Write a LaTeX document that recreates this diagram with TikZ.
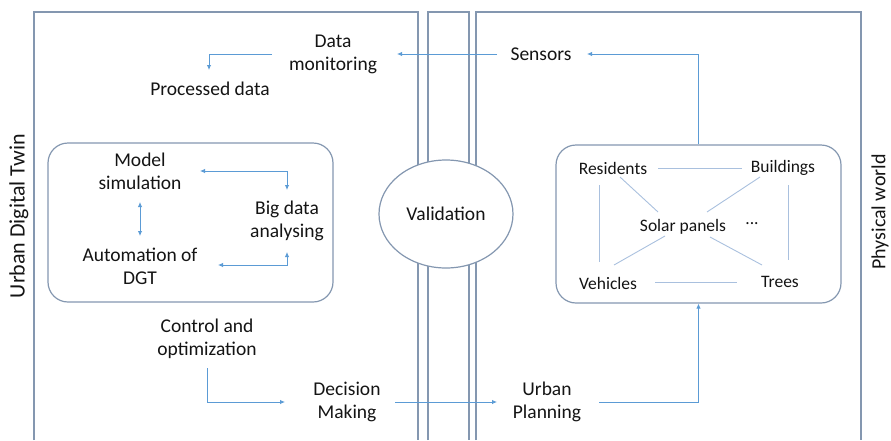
\documentclass[tikz,border=0pt]{standalone}
\usepackage{fontspec}
\setmainfont{Carlito}
\usetikzlibrary{arrows.meta,calc,shapes.geometric}
\definecolor{boxc}{HTML}{8497B0}
\definecolor{arrc}{HTML}{5B9BD5}
\definecolor{linc}{HTML}{A9C0DE}
\definecolor{txtc}{HTML}{141414}
\begin{document}
\begin{tikzpicture}[x=1pt,y=-1pt,
  txt/.style={text=txtc,font=\fontsize{19.5}{23}\selectfont,align=center,inner sep=0pt},
  sml/.style={text=txtc,font=\fontsize{17.5}{21}\selectfont,inner sep=0pt},
  frame/.style={draw=boxc,line width=1.2pt},
  roundbox/.style={draw=boxc,line width=1.2pt,rounded corners=20pt,inner sep=0pt},
  arr/.style={draw=arrc,line width=0.9pt,-{Latex[length=5pt,width=4.5pt]}},
  darr/.style={draw=arrc,line width=0.9pt,{Latex[length=5pt,width=4.5pt]}-{Latex[length=5pt,width=4.5pt]}},
  link/.style={draw=linc,line width=0.9pt}]
\useasboundingbox (0,0) rectangle (891,440);
% frames (open at the bottom)
\draw[frame] (34,440) -- (34,12) -- (418,12) -- (418,440);
\draw[frame] (428,440) -- (428,12) -- (469,12) -- (469,440);
\draw[frame] (476,440) -- (476,12) -- (861,12) -- (861,440);
% side labels
\node[txt,rotate=90,font=\fontsize{22}{26}\selectfont] (udt) at (19,216) {Urban Digital Twin};
\node[txt,rotate=90,font=\fontsize{20}{24}\selectfont] (pw) at (880,212) {Physical world};
% validation
\node[ellipse,draw=boxc,fill=white,line width=1.2pt,minimum width=134pt,minimum height=108pt,inner sep=0pt,text=txtc,font=\fontsize{19.5}{23}\selectfont] (val) at (446,214) {Validation};
% rounded boxes
\node[roundbox,minimum width=285pt,minimum height=159pt] (lb) at (190.5,222.5) {};
\node[roundbox,minimum width=285pt,minimum height=158pt] (rb) at (698.5,224) {};
% left texts
\node[txt] (dm) at (333,54) {Data\\monitoring};
\node[txt] (pd) at (210,89) {Processed data};
\node[txt] (ms) at (140,171) {Model\\simulation};
\node[txt] (bd) at (287,221) {Big data\\analysing};
\node[txt] (ag) at (140,266) {Automation of\\DGT};
\node[txt] (co) at (207,339) {Control and\\optimization};
\node[txt] (dec) at (347,402) {Decision\\Making};
% right texts
\node[txt] (sen) at (541,54) {Sensors};
\node[txt] (up) at (547,402) {Urban\\Planning};
\node[sml] (res) at (613,168) {Residents};
\node[sml] (bui) at (783,168) {Buildings};
\node[sml] (sol) at (683,227) {Solar panels};
\node[sml] (dots) at (752,224) {...};
\node[sml] (veh) at (608,283) {Vehicles};
\node[sml] (tre) at (780,282) {Trees};
% arrows top
\draw[arr] ($(sen)+(-44,0)$) -- ($(dm)+(64,0)$);
\draw[arr] ($(dm)+(-61,0)$) -| ($(pd)+(-1,-19)$);
\draw[arr] (rb.north) |- ($(sen)+(46,0)$);
% left box arrows
\draw[darr] ($(ms)+(60,0)$) -| ($(bd)+(0,-31)$);
\draw[darr] ($(ms)+(0,31)$) -- ($(ag)+(0,-30)$);
\draw[darr] ($(ag)+(78,-1)$) -| ($(bd)+(0,31)$);
% bottom arrows
\draw[arr] ($(co)+(0,29)$) |- ($(dec)+(-62,0)$);
\draw[arr] ($(dec)+(48,0)$) -- ($(up)+(-50,0)$);
\draw[arr] ($(up)+(52,0)$) -| (rb.south);
% physical world links
\draw[link] ($(res)+(45,0)$) -- ($(bui)+(-41,0)$);
\draw[link] ($(res)+(-14,17)$) -- ($(veh)+(-9,-21)$);
\draw[link] ($(bui)+(5,17)$) -- ($(tre)+(8,-22)$);
\draw[link] ($(veh)+(47,-1)$) -- ($(tre)+(-43,0)$);
\draw[link] ($(res)+(7,9)$) -- ($(sol)+(-25,-15)$);
\draw[link] ($(bui)+(-23,9)$) -- ($(sol)+(24,-15)$);
\draw[link] ($(sol)+(-18,9)$) -- ($(veh)+(6,-18)$);
\draw[link] ($(sol)+(27,10)$) -- ($(tre)+(-18,-17)$);
\end{tikzpicture}
\end{document}
